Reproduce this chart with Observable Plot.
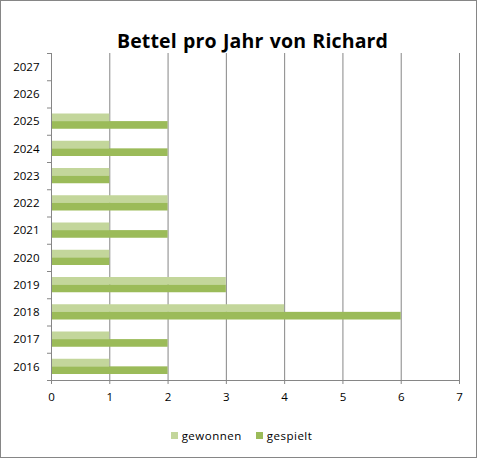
<!DOCTYPE html>
<html>
<head>
<meta charset="utf-8">
<script src="https://cdn.jsdelivr.net/npm/d3@7"></script>
<script src="https://cdn.jsdelivr.net/npm/@observablehq/plot@0.6"></script>
<style>
  html, body { margin: 0; padding: 0; background: #fff; }
  #wrap { position: relative; width: 477px; height: 458px; overflow: hidden; font-family: "Open Sans", "DejaVu Sans", sans-serif; }
  #border { position: absolute; left: 0; top: 0; width: 475px; height: 456px; border: 1px solid #868686; pointer-events: none; }
  #title { position: absolute; left: 14px; width: 477px; top: 27px; text-align: center; font-weight: bold; font-size: 19.5px; color: #000; letter-spacing: 0.15px; word-spacing: 1px; }
  #legend { position: absolute; left: 3px; width: 477px; top: 428px; display: flex; justify-content: center; align-items: center; font-size: 11.5px; color: #000; letter-spacing: 0.5px; }
  .item { display: flex; align-items: center; margin: 0 7px; }
  .sw { width: 7px; height: 7px; margin-right: 4px; }
  #chart { position: absolute; left: 0; top: 0; }
</style>
</head>
<body>
<div id="wrap">
  <div id="chart"></div>
  <div id="title"></div>
  <div id="legend"></div>
  <div id="border"></div>
</div>
<script>
const titleText = "Bettel pro Jahr von Richard";
const years = [2016, 2017, 2018, 2019, 2020, 2021, 2022, 2023, 2024, 2025, 2026, 2027];
const gewonnen = [1, 1, 4, 3, 1, 1, 2, 1, 1, 1, null, null];
const gespielt = [2, 2, 6, 3, 1, 2, 2, 1, 2, 2, null, null];
const seriesNames = ["gewonnen", "gespielt"];
const seriesColors = ["#C3D69B", "#9BBB59"];
const xTicks = [0, 1, 2, 3, 4, 5, 6, 7];

const rows = [];
years.forEach((yr, i) => {
  if (gewonnen[i] != null) rows.push({year: yr, series: "gewonnen", value: gewonnen[i]});
  if (gespielt[i] != null) rows.push({year: yr, series: "gespielt", value: gespielt[i]});
});
const boundaries = [...years.map(y => y - 0.5), years[years.length - 1] + 0.5];
const grid = "#868686";

const chart = Plot.plot({
  width: 477,
  height: 458,
  marginLeft: 51,
  marginRight: 18,
  marginTop: 53,
  marginBottom: 78,
  style: {fontFamily: "'Open Sans', 'DejaVu Sans', sans-serif", fontSize: "11.5px", color: "#000", background: "transparent"},
  x: {domain: [0, 7]},
  y: {domain: [boundaries[0], boundaries[boundaries.length - 1]]},
  marks: [
    Plot.ruleX(xTicks.filter(d => d > 0), {stroke: grid, strokeWidth: 1}),
    Plot.rect(rows.filter(d => d.series === "gewonnen"), {
      x1: 0, x2: "value", y1: d => d.year - 0.5, y2: d => d.year + 0.5,
      insetTop: 6, insetBottom: 13.6, fill: seriesColors[0]
    }),
    Plot.rect(rows.filter(d => d.series === "gespielt"), {
      x1: 0, x2: "value", y1: d => d.year - 0.5, y2: d => d.year + 0.5,
      insetTop: 13.6, insetBottom: 6, fill: seriesColors[1]
    }),
    Plot.ruleX([0], {stroke: grid}),
    Plot.ruleY([boundaries[0]], {stroke: grid}),
    Plot.axisY({ticks: boundaries, tickSize: 4, tickFormat: () => "", stroke: grid, label: null}),
    Plot.axisY({ticks: years, tickSize: 0, tickPadding: 12, tickFormat: d => String(d), label: null, fill: "#000"}),
    Plot.axisX({ticks: xTicks, tickSize: 4, tickPadding: 8, tickFormat: d => String(d), stroke: grid, label: null, fill: "#000"})
  ]
});
document.getElementById("chart").appendChild(chart);
document.getElementById("title").textContent = titleText;

const legend = document.getElementById("legend");
seriesNames.forEach((name, i) => {
  const it = document.createElement("div");
  it.className = "item";
  const sw = document.createElement("div");
  sw.className = "sw";
  sw.style.background = seriesColors[i];
  const lab = document.createElement("span");
  lab.textContent = name;
  it.appendChild(sw);
  it.appendChild(lab);
  legend.appendChild(it);
});
</script>
</body>
</html>
